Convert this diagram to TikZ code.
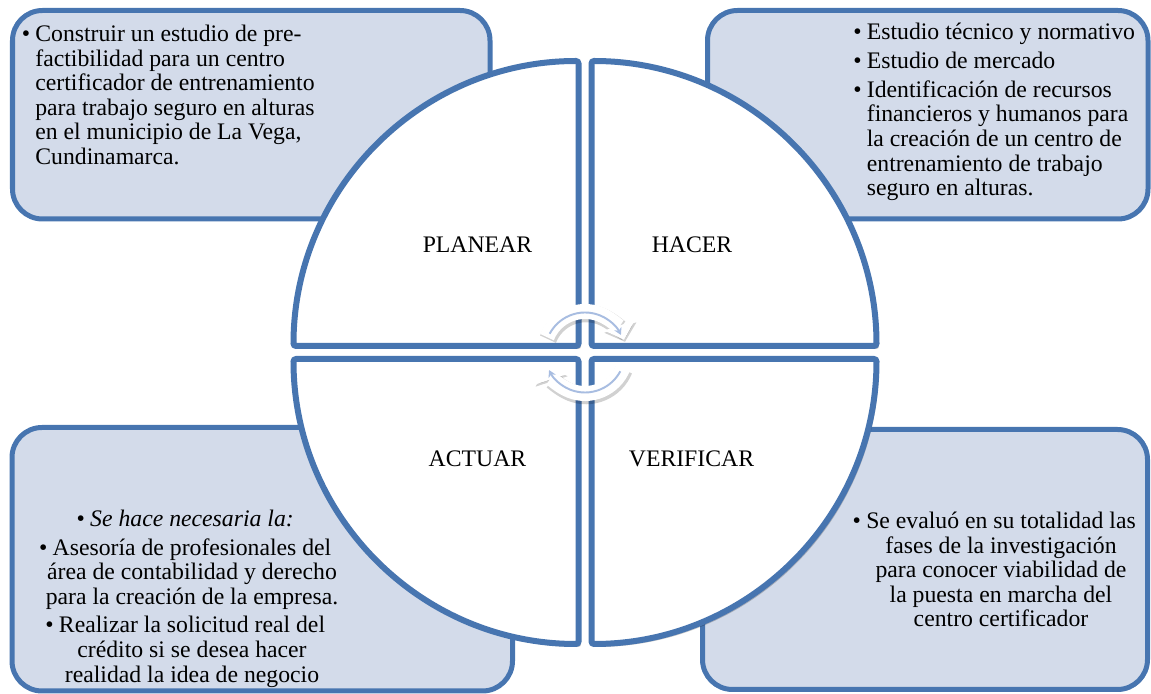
\documentclass[tikz,border=0pt]{standalone}
\usepackage{fontspec}
\setmainfont{Liberation Serif}
\usepackage{tikz}
\usetikzlibrary{arrows.meta,calc,shadows}
\definecolor{cicloblue}{RGB}{71,117,176}
\definecolor{cajafill}{RGB}{211,219,234}
\definecolor{flechablue}{RGB}{168,189,225}
\newcommand{\bul}{\llap{\textbullet\hspace{3pt}}}
\tikzset{
  caja/.style={draw=cicloblue, line width=0.1cm, fill=cajafill, rounded corners=0.6cm},
  cuarto/.style={draw=cicloblue, line width=0.12cm, fill=white, rounded corners=1.5pt,
    drop shadow={shadow xshift=0.05cm, shadow yshift=-0.06cm, fill=black, opacity=0.22}},
  texto/.style={inner sep=0pt, font=\fontsize{13.5}{14}\selectfont},
  fase/.style={texto, anchor=base},
  banda/.style={line width=0.3cm, white, -{Triangle[length=0.3cm,width=0.62cm]}},
  sombra/.style={line width=0.35cm, black, opacity=0.18, -{Triangle[length=0.3cm,width=0.66cm]},
    transform canvas={xshift=0.02cm, yshift=-0.04cm}},
  guia/.style={line width=1.1pt, flechablue, -{Stealth[length=4pt,width=4.5pt]}}
}

\begin{document}
\begin{tikzpicture}
  \useasboundingbox (0,0) rectangle (23.02,13.88);
  \coordinate (C) at (11.70,6.83);
  % cajas de texto
  \draw[caja] (0.25,9.50) rectangle (9.80,13.67);
  \draw[caja] (14.15,9.50) rectangle (22.96,13.67);
  \draw[caja] (0.24,0.06) rectangle (10.25,5.33);
  \draw[caja] (14.05,0.09) rectangle (22.95,5.29);
  % ciclo
  \foreach \a/\dx/\dy in {90/-1/1, 0/1/1, 270/1/-1, 180/-1/-1}
    \draw[cuarto] (11.70+\dx*0.13, 6.83+\dy*0.13) -- ++(\a:5.7)
      arc[start angle=\a, end angle=\a+90, radius=5.7] -- cycle;
  \node[fase] (planear) at (9.55,8.82) {PLANEAR};
  \node[fase] (hacer) at (13.84,8.82) {HACER};
  \node[fase] (actuar) at (9.55,4.54) {ACTUAR};
  \node[fase] (verificar) at (13.83,4.54) {VERIFICAR};
  % flechas centrales
  \foreach \s/\e in {158/18, -22/-162} {
    \draw[sombra] ($(C)+(\s:0.82)$) arc[start angle=\s, end angle=\e, radius=0.82];
    \draw[banda] ($(C)+(\s:0.82)$) arc[start angle=\s, end angle=\e, radius=0.82];
    \draw[guia] ($(C)+(\s-6:0.80)$) arc[start angle=\s-6, end angle=\e+8, radius=0.80];
  }
  % textos
  \node[texto, anchor=base west] (txtplanear) at (0.70,13.05) {\begin{tabular}[t]{@{}l@{}}
    \bul Construir un estudio de pre-\\
    factibilidad para un centro\\
    certificador de entrenamiento\\
    para trabajo seguro en alturas\\
    en el municipio de La Vega,\\
    Cundinamarca.
  \end{tabular}};
  \node[texto, anchor=base west] (txthacer) at (17.33,13.08) {\begin{tabular}[t]{@{}l@{}}
    \bul Estudio técnico y normativo\\[2.3pt]
    \bul Estudio de mercado\\[2.3pt]
    \bul Identificación de recursos\\
    financieros y humanos para\\
    la creación de un centro de\\
    entrenamiento de trabajo\\
    seguro en alturas.
  \end{tabular}};
  \node[texto, anchor=base] (txtactuar) at (3.84,3.35) {\begin{tabular}[t]{@{}c@{}}
    \bul\textit{Se hace necesaria la:}\\[2.3pt]
    \bul Asesoría de profesionales del\\
    área de contabilidad y derecho\\
    para la creación de la empresa.\\[2.3pt]
    \bul Realizar la solicitud real del\\
    crédito si se desea hacer\\
    realidad la idea de negocio
  \end{tabular}};
  \node[texto, anchor=base] (txtverificar) at (20.02,3.31) {\begin{tabular}[t]{@{}c@{}}
    \bul Se evaluó en su totalidad las\\
    fases de la investigación\\
    para conocer viabilidad de\\
    la puesta en marcha del\\
    centro certificador
  \end{tabular}};
\end{tikzpicture}
\end{document}
